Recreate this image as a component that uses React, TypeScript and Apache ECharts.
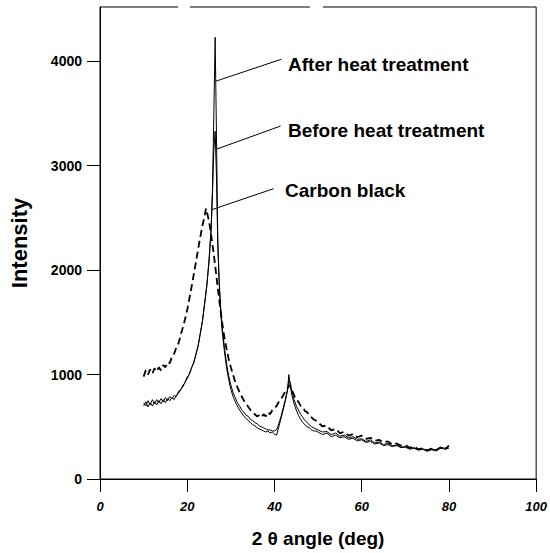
import React, { useEffect, useRef } from "react";
import * as echarts from "echarts";

// 2θ grid (deg) for carbon black
const xCarbon = [10, 10.5, 11, 11.5, 12, 12.5, 13, 13.5, 14, 14.5, 15, 15.5, 16, 16.5, 17, 17.5, 18, 18.5, 19, 19.5, 20, 20.5, 21, 21.5, 22, 22.5, 23, 23.5, 24, 24.3, 24.6, 25, 25.5, 26, 26.5, 27, 27.5, 28, 28.5, 29, 29.5, 30, 30.5, 31, 31.5, 32, 32.5, 33, 33.5, 34, 34.5, 35, 35.5, 36, 36.5, 37, 37.5, 38, 38.5, 39, 39.5, 40, 40.5, 41, 41.5, 42, 42.5, 43, 43.5, 44, 44.5, 45, 45.5, 46, 46.5, 47, 47.5, 48, 48.5, 49, 49.5, 50, 51, 52, 53, 54, 55, 56, 57, 58, 59, 60, 61, 62, 63, 64, 65, 66, 67, 68, 69, 70, 71, 72, 73, 74, 75, 76, 77, 78, 79, 80];
const yCarbon = [980, 1040, 1000, 1050, 1010, 1060, 1030, 1070, 1040, 1090, 1070, 1120, 1110, 1170, 1200, 1260, 1300, 1380, 1450, 1530, 1620, 1730, 1840, 1960, 2080, 2200, 2320, 2430, 2520, 2590, 2540, 2470, 2330, 2180, 2010, 1830, 1660, 1500, 1360, 1250, 1150, 1070, 1000, 930, 880, 830, 790, 750, 720, 690, 660, 640, 620, 600, 610, 590, 620, 600, 640, 620, 660, 680, 700, 740, 770, 800, 840, 870, 900, 850, 800, 760, 740, 700, 690, 650, 640, 610, 590, 570, 560, 540, 505, 510, 465, 480, 440, 450, 415, 430, 400, 415, 385, 395, 365, 375, 350, 360, 330, 340, 320, 325, 300, 310, 285, 295, 275, 290, 270, 300, 280, 320];

// 2θ grid (deg) for the heat-treated samples
const xHeat = [10, 10.5, 11, 11.5, 12, 12.5, 13, 13.5, 14, 14.5, 15, 15.5, 16, 16.5, 17, 17.5, 18, 18.5, 19, 19.5, 20, 20.5, 21, 21.5, 22, 22.5, 23, 23.5, 24, 24.5, 25, 25.5, 25.8, 26.1, 26.4, 26.7, 27, 27.3, 27.6, 28, 28.5, 29, 29.5, 30, 30.5, 31, 31.5, 32, 32.5, 33, 33.5, 34, 34.5, 35, 35.5, 36, 36.5, 37, 37.5, 38, 38.5, 39, 39.5, 40, 40.5, 41, 41.5, 42, 42.5, 43, 43.3, 43.6, 44, 44.5, 45, 45.5, 46, 46.5, 47, 47.5, 48, 48.5, 49, 49.5, 50, 51, 52, 53, 54, 55, 56, 57, 58, 59, 60, 61, 62, 63, 64, 65, 66, 67, 68, 69, 70, 71, 72, 73, 74, 75, 76, 77, 78, 79, 80];
const yAfter = [700, 740, 690, 730, 700, 740, 710, 750, 720, 760, 730, 770, 750, 780, 760, 800, 820, 860, 880, 930, 960, 1010, 1060, 1120, 1190, 1280, 1390, 1520, 1680, 1860, 2080, 2400, 2800, 3500, 4230, 3300, 2300, 1900, 1640, 1420, 1230, 1070, 950, 860, 790, 740, 700, 660, 630, 600, 580, 560, 540, 520, 510, 490, 480, 470, 460, 450, 460, 440, 450, 430, 420, 500, 580, 660, 750, 850, 1000, 900, 800, 720, 660, 610, 570, 540, 520, 500, 490, 470, 460, 460, 450, 425, 440, 405, 420, 395, 405, 380, 390, 365, 375, 350, 360, 335, 345, 320, 330, 310, 320, 300, 305, 285, 295, 275, 285, 265, 280, 270, 300, 285, 295];
const yBefore = [730, 700, 750, 710, 760, 720, 760, 730, 770, 740, 780, 750, 790, 770, 800, 790, 840, 850, 900, 920, 980, 1000, 1070, 1110, 1200, 1270, 1400, 1510, 1690, 1850, 2100, 2420, 2750, 3150, 3330, 2900, 2250, 1920, 1680, 1460, 1270, 1110, 990, 900, 830, 780, 730, 700, 660, 640, 610, 600, 570, 560, 540, 530, 510, 500, 490, 480, 470, 470, 460, 460, 470, 530, 600, 680, 760, 860, 940, 930, 840, 760, 700, 660, 620, 590, 560, 540, 520, 500, 490, 480, 470, 450, 455, 425, 440, 410, 420, 395, 405, 380, 385, 360, 375, 345, 355, 330, 340, 320, 325, 305, 310, 295, 300, 280, 290, 275, 285, 280, 305, 295, 310];

const yTicks = [0, 1000, 2000, 3000, 4000];
const labels = ["After heat treatment", "Before heat treatment", "Carbon black"];
// leader lines: [x0, y0, x1, y1] in data units
const leaders = [
  [26.6, 3810, 41.6, 4020],
  [26.8, 3160, 41.4, 3380],
  [25.7, 2580, 39.8, 2780],
];

const FONT = "'Liberation Sans', Arial, Helvetica, sans-serif";

const zip = (xs: number[], ys: number[]) => xs.map((x, i) => [x, ys[i]]);

export default function App() {
  const ref = useRef<HTMLDivElement>(null);
  useEffect(() => {
    if (!ref.current) return;
    const chart = echarts.init(ref.current, undefined, { renderer: "svg" });
    const labelPos = [
      [288, 64],
      [288, 130],
      [285, 190],
    ];
    chart.setOption({
      animation: false,
      backgroundColor: "#fff",
      grid: {
        left: 99,
        right: 11,
        top: 7,
        bottom: 68,
        show: true,
        borderColor: "#000",
        borderWidth: 1,
      },
      xAxis: {
        type: "value",
        min: 0,
        max: 100,
        interval: 20,
        name: "2 θ angle (deg)",
        nameLocation: "middle",
        nameGap: 50,
        nameTextStyle: { fontFamily: FONT, fontWeight: "bold", fontSize: 19, color: "#000" },
        axisLine: { lineStyle: { color: "#000", width: 1 } },
        axisTick: { inside: false, length: 13, lineStyle: { color: "#000" } },
        axisLabel: {
          margin: 21,
          fontFamily: FONT,
          fontStyle: "italic",
          fontWeight: "bold",
          fontSize: 13,
          color: "#000",
          formatter: (v: number) => String(v),
        },
        splitLine: { show: false },
      },
      yAxis: {
        type: "value",
        min: 0,
        max: 4520,
        name: "Intensity",
        nameLocation: "middle",
        nameGap: 70,
        nameTextStyle: { fontFamily: FONT, fontWeight: "bold", fontSize: 22, color: "#000" },
        axisLine: { show: true, lineStyle: { color: "#000", width: 1 } },
        axisTick: { show: true, inside: false, length: 13, customValues: yTicks, lineStyle: { color: "#000" } },
        axisLabel: {
          customValues: yTicks,
          margin: 18,
          fontFamily: FONT,
          fontWeight: "bold",
          fontSize: 14,
          color: "#000",
          formatter: (v: number) => String(v),
        },
        splitLine: { show: false },
      },
      graphic: [
        { type: "rect", shape: { x: 178, y: 4, width: 12, height: 6 }, style: { fill: "#fff" }, z: 100 },
        { type: "rect", shape: { x: 310, y: 4, width: 13, height: 6 }, style: { fill: "#fff" }, z: 100 },
        ...labels.map((t, i) => ({
          type: "text",
          x: labelPos[i][0],
          y: labelPos[i][1],
          style: {
            text: t,
            font: `bold 19px ${FONT}`,
            fill: "#000",
            textVerticalAlign: "middle",
            textAlign: "left",
          },
        })),
      ],
      series: [
        {
          name: "Carbon black",
          type: "line",
          data: zip(xCarbon, yCarbon),
          showSymbol: false,
          lineStyle: { color: "#000", width: 1.8, type: [7, 4] },
        },
        {
          name: "Before heat treatment",
          type: "line",
          data: zip(xHeat, yBefore),
          showSymbol: false,
          lineStyle: { color: "#000", width: 1 },
        },
        {
          name: "After heat treatment",
          type: "line",
          data: zip(xHeat, yAfter),
          showSymbol: false,
          lineStyle: { color: "#000", width: 1 },
          markLine: {
            silent: true,
            symbol: ["none", "none"],
            label: { show: false },
            lineStyle: { color: "#000", width: 1, type: "solid" },
            data: leaders.map((l) => [{ coord: [l[0], l[1]] }, { coord: [l[2], l[3]] }]),
          },
        },
      ],
    });
    return () => chart.dispose();
  }, []);
  return (
    <div
      ref={ref}
      style={{ position: "fixed", left: 0, top: 0, width: 550, height: 553 }}
    />
  );
}
